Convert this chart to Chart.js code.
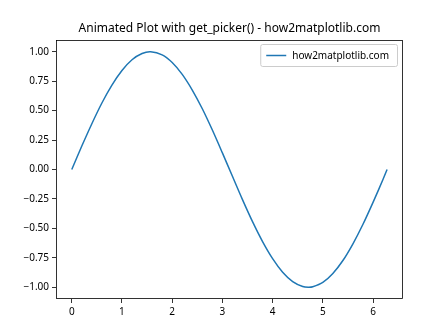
<!DOCTYPE html>
<html>
<head>
<meta charset="utf-8">
<script src="https://cdn.jsdelivr.net/npm/chart.js@4"></script>
<style>
  body { margin: 0; background: #fff; }
  #wrap { width: 448px; height: 336px; }
</style>
</head>
<body>
<div id="wrap"><canvas id="sineChart" width="448" height="336"></canvas></div>
<script>
// values
const xValues = [0, 0.2, 0.4, 0.6, 0.8, 1.0, 1.2, 1.4, 1.57, 1.8, 2.0, 2.2, 2.4, 2.6, 2.8, 3.0,
                 3.2, 3.4, 3.6, 3.8, 4.0, 4.2, 4.4, 4.6, 4.71, 4.8, 5.0, 5.2, 5.4, 5.6, 5.8, 6.0, 6.2, 6.28];
const yValues = [0, 0.199, 0.389, 0.565, 0.717, 0.841, 0.932, 0.985, 1.0, 0.974, 0.909, 0.808, 0.675, 0.516, 0.335, 0.141,
                 -0.058, -0.256, -0.443, -0.612, -0.757, -0.872, -0.952, -0.994, -1.0, -0.996, -0.959, -0.883, -0.773, -0.631, -0.465, -0.279, -0.083, 0.0];
const xTicks = [0, 1, 2, 3, 4, 5, 6];
const yTicks = [-1.0, -0.75, -0.5, -0.25, 0, 0.25, 0.5, 0.75, 1.0];
const seriesLabel = 'how2matplotlib.com';
const titleText = 'Animated Plot with get_picker() - how2matplotlib.com';

const FONT = '"Noto Sans", "DejaVu Sans", sans-serif';
const lineColor = '#1f77b4';

const points = xValues.map((x, i) => ({ x: x, y: yValues[i] }));

// frame, title and in-axes legend like matplotlib
const decorPlugin = {
    id: 'decor',
    afterDraw(chart) {
        const ctx = chart.ctx;
        const a = chart.chartArea;
        ctx.save();
        ctx.strokeStyle = '#000';
        ctx.lineWidth = 0.8;
        ctx.strokeRect(a.left + 0.5, a.top + 0.5, a.right - a.left - 1, a.bottom - a.top - 1);

        ctx.fillStyle = '#000';
        ctx.font = '12px ' + FONT;
        ctx.textAlign = 'center';
        ctx.textBaseline = 'alphabetic';
        ctx.fillText(titleText, (a.left + a.right) / 2, a.top - 8);

        // legend box
        ctx.font = '10px ' + FONT;
        const tw = ctx.measureText(seriesLabel).width;
        const bw = tw + 40, bh = 22;
        const bx = a.right - 6 - bw, by = a.top + 4;
        ctx.fillStyle = 'rgba(255,255,255,0.8)';
        ctx.strokeStyle = '#cccccc';
        ctx.lineWidth = 1;
        ctx.beginPath();
        ctx.roundRect(bx + 0.5, by + 0.5, bw, bh, 2);
        ctx.fill();
        ctx.stroke();
        ctx.strokeStyle = lineColor;
        ctx.lineWidth = 1.5;
        ctx.beginPath();
        ctx.moveTo(bx + 6, by + bh / 2 + 0.5);
        ctx.lineTo(bx + 26, by + bh / 2 + 0.5);
        ctx.stroke();
        ctx.fillStyle = '#000';
        ctx.textAlign = 'left';
        ctx.textBaseline = 'middle';
        ctx.fillText(seriesLabel, bx + 32, by + bh / 2 + 1);
        ctx.restore();
    }
};

const ctx = document.getElementById('sineChart').getContext('2d');
const chart = new Chart(ctx, {
    type: 'line',
    data: {
        datasets: [{
            label: seriesLabel,
            data: points,
            borderColor: lineColor,
            borderWidth: 1.5,
            pointRadius: 0,
            fill: false,
            tension: 0.3
        }]
    },
    options: {
        responsive: false,
        animation: false,
        layout: { padding: { left: 0, right: 45, top: 40, bottom: 0 } },
        plugins: {
            legend: { display: false },
            title: { display: false },
            tooltip: { enabled: false }
        },
        scales: {
            x: {
                type: 'linear',
                min: -0.314,
                max: 6.597,
                afterFit(scale) { scale.height = 37; },
                afterBuildTicks(scale) { scale.ticks = xTicks.map(v => ({ value: v })); },
                grid: { drawOnChartArea: false, drawTicks: true, tickLength: 4, color: '#000', lineWidth: 0.8 },
                border: { display: false },
                ticks: {
                    color: '#000',
                    font: { family: FONT, size: 10 },
                    padding: 3,
                    maxRotation: 0,
                    callback: v => String(v)
                }
            },
            y: {
                type: 'linear',
                min: -1.1,
                max: 1.1,
                afterFit(scale) { scale.width = 56; },
                afterBuildTicks(scale) { scale.ticks = yTicks.map(v => ({ value: v })); },
                grid: { drawOnChartArea: false, drawTicks: true, tickLength: 4, color: '#000', lineWidth: 0.8 },
                border: { display: false },
                ticks: {
                    color: '#000',
                    font: { family: FONT, size: 10 },
                    padding: 3,
                    callback: v => v.toFixed(2).replace('-', '\u2212')
                }
            }
        }
    },
    plugins: [decorPlugin]
});
</script>
</body>
</html>
